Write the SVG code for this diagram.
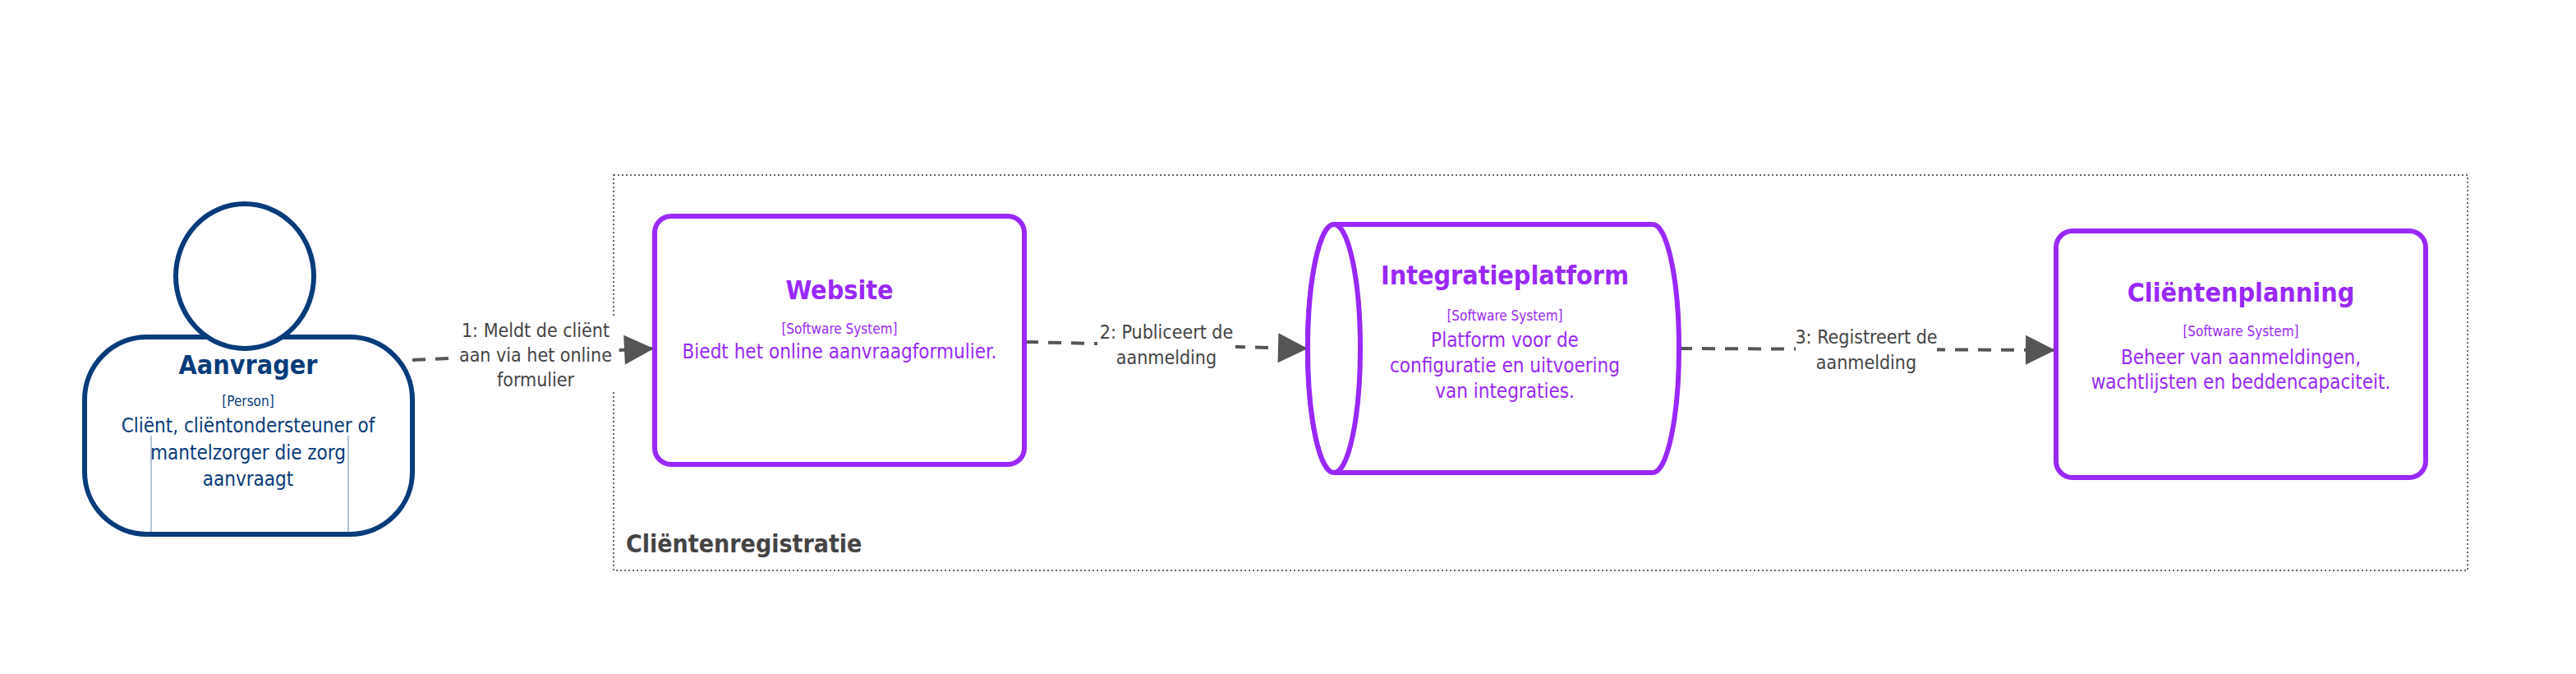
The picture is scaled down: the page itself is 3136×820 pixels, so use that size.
<svg xmlns="http://www.w3.org/2000/svg" width="3136" height="820" viewBox="0 0 3136 820">
<style>
text{font-family:"DejaVu Sans Condensed","DejaVu Sans",sans-serif;text-anchor:middle}
.p{fill:#fff;stroke:#073b7a;stroke-width:6}
.pt{fill:#073b7a}
.s{fill:#fff;stroke:#9a28f8;stroke-width:6}
.st{fill:#9a28f8}
.t{font-weight:bold;font-size:32px}
.k{font-size:17px}
.d{font-size:24px}
.c{fill:none;stroke:#555;stroke-width:4;stroke-dasharray:16 12}
.l{fill:#444;font-size:23px}
</style>
<defs>
<marker id="a" markerUnits="userSpaceOnUse" markerWidth="40" markerHeight="40" refX="38" refY="20" orient="auto"><path d="M2,2 L38,20 L2,38 Z" fill="#555"/></marker>
</defs>
<g id="boundary">
<rect x="747" y="213" width="2257" height="481" fill="none" stroke="#666" stroke-width="2" stroke-dasharray="2 3"/>
<text x="762" y="672" style="text-anchor:start;font-weight:bold;font-size:30px;fill:#444">Cliëntenregistratie</text>
</g>
<g id="connectors">
<path class="c" d="M502,438 L796,424" marker-end="url(#a)"/>
<path class="c" d="M1248,416 L1592,424" marker-end="url(#a)"/>
<path class="c" d="M2044,424 L2502,426" marker-end="url(#a)"/>
<rect x="552" y="384" width="200" height="90" fill="#fff"/>
<text class="l" x="652" y="410">1: Meldt de cliënt</text>
<text class="l" x="652" y="440">aan via het online</text>
<text class="l" x="652" y="470">formulier</text>
<rect x="1336" y="388" width="168" height="60" fill="#fff"/>
<text class="l" x="1420" y="412">2: Publiceert de</text>
<text class="l" x="1420" y="443">aanmelding</text>
<rect x="2186" y="394" width="172" height="58" fill="#fff"/>
<text class="l" x="2272" y="418">3: Registreert de</text>
<text class="l" x="2272" y="449">aanmelding</text>
</g>
<g id="aanvrager">
<rect class="p" x="103" y="410" width="399" height="240" rx="76"/>
<ellipse class="p" cx="298" cy="336" rx="84" ry="88"/>
<line x1="184" y1="530" x2="184" y2="647" stroke="#073b7a" stroke-width="1" opacity="0.6"/>
<line x1="424" y1="530" x2="424" y2="647" stroke="#073b7a" stroke-width="1" opacity="0.6"/>
<text class="pt t" x="302" y="455">Aanvrager</text>
<text class="pt k" x="302" y="494">[Person]</text>
<text class="pt d" x="302" y="526">Cliënt, cliëntondersteuner of</text>
<text class="pt d" x="302" y="559">mantelzorger die zorg</text>
<text class="pt d" x="302" y="591">aanvraagt</text>
</g>
<g id="website">
<rect class="s" x="797" y="263" width="450" height="302" rx="20"/>
<text class="st t" x="1022" y="364">Website</text>
<text class="st k" x="1022" y="406">[Software System]</text>
<text class="st d" x="1022" y="436">Biedt het online aanvraagformulier.</text>
</g>
<g id="integratieplatform">
<path class="s" d="M1624,273 L2012,273 A32,151 0 0 1 2012,575 L1624,575 A32,151 0 0 1 1624,273 Z"/>
<ellipse class="s" cx="1624" cy="424" rx="32" ry="151"/>
<text class="st t" x="1832" y="346">Integratieplatform</text>
<text class="st k" x="1832" y="390">[Software System]</text>
<text class="st d" x="1832" y="422">Platform voor de</text>
<text class="st d" x="1832" y="453">configuratie en uitvoering</text>
<text class="st d" x="1832" y="484">van integraties.</text>
</g>
<g id="clientenplanning">
<rect class="s" x="2503" y="281" width="450" height="300" rx="20"/>
<text class="st t" x="2728" y="367">Cliëntenplanning</text>
<text class="st k" x="2728" y="409">[Software System]</text>
<text class="st d" x="2728" y="443">Beheer van aanmeldingen,</text>
<text class="st d" x="2728" y="473">wachtlijsten en beddencapaciteit.</text>
</g>
</svg>
